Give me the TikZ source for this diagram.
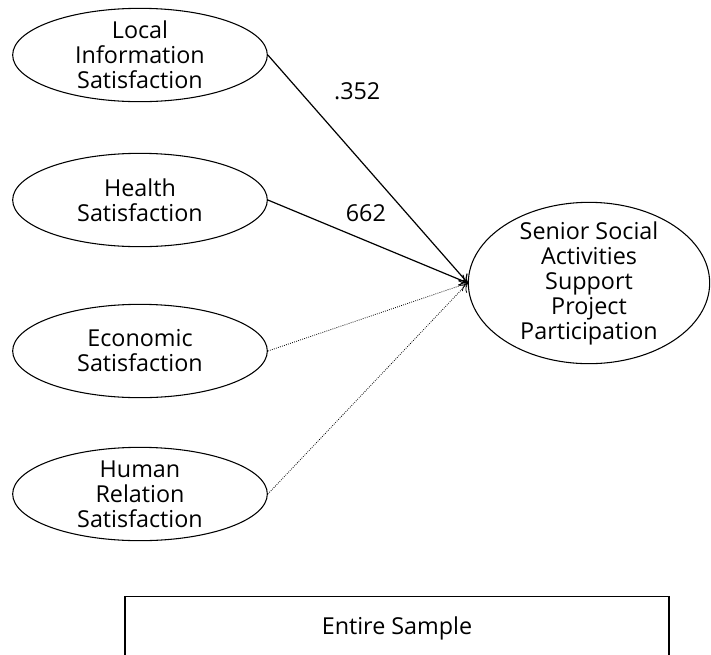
\documentclass[tikz,border=0pt]{standalone}
\usepackage{fontspec}
\setmainfont{Open Sans}
\usetikzlibrary{shapes.geometric,arrows.meta}
\tikzset{
sat/.style={
    ellipse, draw, line width=0.8pt,
    minimum width=191pt, minimum height=70pt,
    inner xsep=0pt, inner ysep=-3.5pt, align=center,
    font=\fontsize{17.5pt}{18.75pt}\selectfont
},
dv/.style={
    sat,
    minimum width=181pt, minimum height=121pt
},
sig/.style={
    -{To[length=6pt,width=9pt]}, line width=0.9pt
},
nsig/.style={
    -{To[length=6pt,width=9pt]}, densely dotted, line width=0.6pt
},
coef/.style={font=\fontsize{17.5pt}{18.75pt}\selectfont}
}

\begin{document}
\begin{tikzpicture}[x=0.75pt,y=-0.75pt]
\useasboundingbox (0,0) rectangle (711,654);
\clip (0,0) rectangle (711,654);
% predictors
\node[sat] (loc) at (140,55)  {Local\\Information\\Satisfaction};
\node[sat] (hea) at (140,200) {Health\\Satisfaction};
\node[sat] (eco) at (140,351) {Economic\\Satisfaction};
\node[sat] (hum) at (140,494) {Human\\Relation\\Satisfaction};
% outcome
\node[dv] (part) at (589,283) {Senior Social\\Activities\\Support\\Project\\Participation};

\draw[sig] (loc.east) -- (part.west) node[coef,pos=0.2,xshift=37pt,yshift=7pt]{.352};
\draw[sig] (hea.east) -- (part.west) node[coef,pos=0.49,yshift=21pt]{662};
\draw[nsig] (eco.east) -- (part.west);
\draw[nsig] (hum.east) -- (part.west);

% group box
\node[draw, line width=0.8pt, minimum width=408pt, minimum height=47pt,
      coef] (grp) at (397,628) {Entire Sample};
\end{tikzpicture}
\end{document}
